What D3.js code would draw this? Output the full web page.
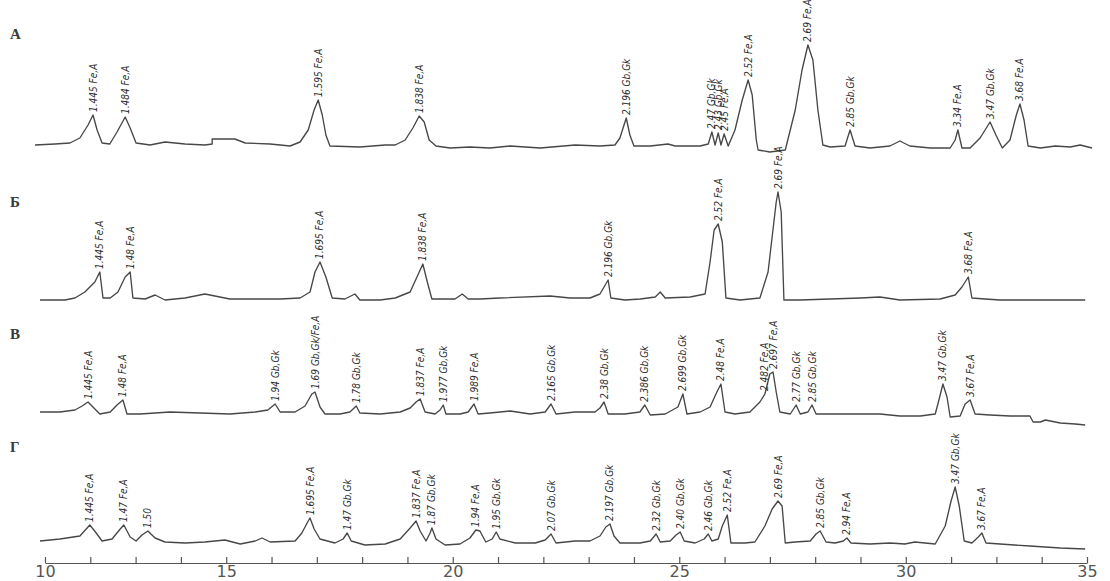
<!DOCTYPE html>
<html>
<head>
<meta charset="utf-8">
<script src="https://d3js.org/d3.v7.min.js"></script>
<style>
body { margin:0; background:#fff; }
svg { display:block; }
.trace { fill:none; stroke:#474747; stroke-width:1.35; stroke-linejoin:round; }
.peak { font-family:"Liberation Sans Narrow","DejaVu Sans Condensed",sans-serif; font-size:10px; font-style:italic; fill:#2e2e2e; }
.letter { font-family:"Liberation Serif","DejaVu Serif",serif; font-size:15px; font-weight:bold; fill:#3a3a3a; }
</style>
</head>
<body>
<div id="chart"></div>
<script>
// pattern traces: [2theta, intensity above baseline]
var traceA = [[10.78,0],[11.22,1],[11.55,2],[11.77,7],[11.95,20],[12.06,30],[12.15,15],[12.26,2],[12.43,1],[12.59,13],[12.77,28],[12.88,17],[13.01,2],[13.32,0],[13.65,3],[14.09,1],[14.53,0],[14.69,1],[14.69,6],[15.19,6],[15.42,2],[15.97,1],[16.41,-1],[16.63,3],[16.81,15],[16.94,35],[17.03,45],[17.12,30],[17.20,10],[17.29,-1],[17.95,-2],[18.51,0],[18.73,0],[18.95,5],[19.12,17],[19.26,29],[19.37,23],[19.48,5],[19.63,-1],[19.94,-3],[20.38,-2],[20.82,-3],[21.27,-1],[21.93,-3],[22.70,0],[23.25,-1],[23.58,0],[23.69,7],[23.83,27],[23.91,10],[24.00,-1],[24.36,-1],[24.75,1],[24.91,-1],[25.46,-1],[25.64,1],[25.72,13],[25.79,0],[25.86,12],[25.92,0],[25.99,11],[26.08,-1],[26.23,15],[26.39,45],[26.52,65],[26.61,50],[26.70,5],[26.74,-5],[27.00,-7],[27.34,-5],[27.56,35],[27.71,75],[27.84,100],[27.95,85],[28.06,35],[28.17,0],[28.33,-2],[28.66,-1],[28.77,15],[28.88,-1],[29.21,-3],[29.65,-1],[29.87,4],[30.09,-1],[30.54,-3],[30.98,-3],[31.09,5],[31.15,15],[31.24,-3],[31.42,-3],[31.64,7],[31.86,23],[31.99,10],[32.13,-3],[32.30,5],[32.44,30],[32.52,41],[32.61,25],[32.70,-1],[32.97,-3],[33.30,-1],[33.63,-2],[33.85,0],[34.11,-3]];

var traceB = [[10.89,0],[11.44,0],[11.66,2],[11.88,8],[12.10,18],[12.21,28],[12.28,2],[12.44,2],[12.61,8],[12.77,23],[12.88,28],[12.94,2],[13.21,1],[13.43,5],[13.65,0],[14.09,2],[14.53,6],[14.75,4],[15.08,1],[16.19,1],[16.63,2],[16.85,8],[16.96,28],[17.07,38],[17.20,23],[17.34,2],[17.62,1],[17.84,6],[17.95,0],[18.40,0],[18.73,2],[19.06,8],[19.21,23],[19.34,36],[19.45,16],[19.54,1],[20.05,1],[20.21,6],[20.34,1],[20.60,1],[21.04,2],[22.15,4],[22.59,2],[23.03,2],[23.25,6],[23.34,13],[23.43,20],[23.49,2],[23.80,0],[24.14,1],[24.47,3],[24.58,8],[24.69,2],[25.24,3],[25.57,6],[25.68,38],[25.77,70],[25.86,76],[25.95,58],[26.03,2],[26.34,0],[26.78,2],[26.96,28],[27.05,63],[27.14,98],[27.18,108],[27.25,88],[27.31,0],[27.67,0],[28.33,1],[28.99,2],[29.43,3],[29.87,0],[30.76,1],[31.09,5],[31.24,13],[31.38,23],[31.46,2],[31.75,1],[32.08,0],[32.74,0],[33.41,0],[33.96,0]];

var traceC = [[10.89,0],[11.33,0],[11.66,2],[11.82,6],[11.95,10],[12.08,4],[12.21,-2],[12.44,0],[12.59,7],[12.72,12],[12.81,-2],[13.10,-2],[13.76,0],[14.42,-1],[15.08,-2],[15.64,0],[15.92,2],[16.08,8],[16.19,0],[16.52,0],[16.74,6],[16.89,18],[16.96,20],[17.07,5],[17.18,-2],[17.51,-2],[17.73,0],[17.87,6],[17.95,-1],[18.40,-2],[18.84,0],[19.06,4],[19.19,10],[19.28,13],[19.39,0],[19.61,-2],[19.72,2],[19.79,7],[19.85,-2],[20.16,-2],[20.34,0],[20.47,8],[20.56,-2],[20.82,-1],[21.27,1],[21.71,-2],[22.04,0],[22.17,8],[22.28,-2],[22.70,0],[23.14,0],[23.25,4],[23.34,10],[23.43,-2],[23.80,-2],[24.13,0],[24.24,7],[24.36,-3],[24.69,-2],[24.97,5],[25.08,18],[25.17,-2],[25.46,0],[25.68,5],[25.83,20],[25.92,28],[26.01,0],[26.23,-2],[26.56,0],[26.78,10],[26.89,18],[27.00,38],[27.07,40],[27.14,20],[27.22,0],[27.45,-2],[27.58,7],[27.67,-2],[27.84,0],[27.93,7],[28.02,-2],[28.33,-2],[28.99,-2],[29.43,-2],[29.87,-4],[30.32,-4],[30.65,-2],[30.72,10],[30.82,28],[30.91,15],[30.98,-5],[31.20,-4],[31.31,8],[31.42,12],[31.53,-2],[31.86,-3],[32.30,-4],[32.74,-4],[32.81,-10],[32.97,-10],[33.08,-8],[33.41,-11],[33.74,-12],[33.96,-13]];

var traceD = [[10.89,0],[11.33,2],[11.77,5],[11.91,12],[11.99,16],[12.13,8],[12.26,0],[12.48,2],[12.66,12],[12.74,16],[12.88,4],[13.01,0],[13.14,6],[13.27,10],[13.43,3],[13.65,-1],[14.09,-2],[14.53,-1],[14.97,1],[15.31,-3],[15.64,0],[15.79,3],[15.97,-1],[16.52,0],[16.67,8],[16.81,20],[16.85,23],[16.94,12],[17.07,2],[17.40,-2],[17.58,2],[17.67,8],[17.76,0],[18.06,-4],[18.51,-3],[18.84,2],[19.06,13],[19.19,20],[19.28,10],[19.41,0],[19.50,8],[19.54,13],[19.63,2],[19.83,-4],[20.16,-3],[20.38,3],[20.51,11],[20.60,10],[20.73,-1],[20.87,2],[20.96,9],[21.04,2],[21.38,-2],[21.82,-2],[22.04,1],[22.17,7],[22.28,-2],[22.70,0],[23.03,0],[23.25,5],[23.38,14],[23.47,17],[23.56,5],[23.69,-2],[24.13,-2],[24.36,0],[24.49,7],[24.58,-1],[24.80,0],[24.93,6],[25.02,9],[25.11,0],[25.35,-2],[25.55,2],[25.64,7],[25.72,0],[25.86,2],[25.95,15],[26.06,26],[26.14,-2],[26.45,-2],[26.67,-1],[26.89,15],[27.05,32],[27.18,40],[27.27,35],[27.34,-2],[27.56,-1],[27.89,0],[28.02,7],[28.11,10],[28.24,-1],[28.44,-2],[28.62,0],[28.70,3],[28.79,-2],[29.21,-3],[29.65,-2],[29.98,-3],[30.20,-1],[30.65,-3],[30.87,15],[31.00,40],[31.09,54],[31.18,35],[31.29,0],[31.46,-2],[31.60,4],[31.68,8],[31.77,-2],[32.08,-3],[32.74,-5],[33.41,-7],[33.96,-8]];

// labelled reflections: [2theta, intensity, label]
var peaksA = [[12.06,30,"1.445 Fe,A"],[12.77,28,"1.484 Fe,A"],[17.03,45,"1.595 Fe,A"],[19.26,29,"1.838 Fe,A"],[23.83,27,"2.196 Gb,Gk"],[25.72,13,"2.47 Gb,Gk"],[25.86,12,"2.43 Gb,Gk"],[25.99,11,"2.45 Fe,A"],[26.52,65,"2.52 Fe,A"],[27.84,100,"2.69 Fe,A"],[28.77,15,"2.85 Gb,Gk"],[31.15,15,"3.34 Fe,A"],[31.86,23,"3.47 Gb,Gk"],[32.52,41,"3.68 Fe,A"]];
var peaksB = [[12.21,28,"1.445 Fe,A"],[12.88,28,"1.48 Fe,A"],[17.07,38,"1.695 Fe,A"],[19.34,36,"1.838 Fe,A"],[23.43,20,"2.196 Gb,Gk"],[25.86,76,"2.52 Fe,A"],[27.18,108,"2.69 Fe,A"],[31.38,23,"3.68 Fe,A"]];
var peaksC = [[11.95,10,"1.445 Fe,A"],[12.72,12,"1.48 Fe,A"],[16.08,8,"1.94 Gb,Gk"],[16.96,20,"1.69 Gb,Gk/Fe,A"],[17.87,6,"1.78 Gb,Gk"],[19.28,13,"1.837 Fe,A"],[19.79,7,"1.977 Gb,Gk"],[20.47,8,"1.989 Fe,A"],[22.17,8,"2.165 Gb,Gk"],[23.34,10,"2.38 Gb,Gk"],[24.24,7,"2.386 Gb,Gk"],[25.08,18,"2.699 Gb,Gk"],[25.92,28,"2.48 Fe,A"],[26.89,18,"2.482 Fe,A"],[27.07,40,"2.697 Fe,A"],[27.58,7,"2.77 Gb,Gk"],[27.93,7,"2.85 Gb,Gk"],[30.82,28,"3.47 Gb,Gk"],[31.42,12,"3.67 Fe,A"]];
var peaksD = [[11.99,16,"1.445 Fe,A"],[12.74,16,"1.47 Fe,A"],[13.27,10,"1.50"],[16.85,23,"1.695 Fe,A"],[17.67,8,"1.47 Gb,Gk"],[19.19,20,"1.837 Fe,A"],[19.54,13,"1.87 Gb,Gk"],[20.51,11,"1.94 Fe,A"],[20.96,9,"1.95 Gb,Gk"],[22.17,7,"2.07 Gb,Gk"],[23.47,17,"2.197 Gb,Gk"],[24.49,7,"2.32 Gb,Gk"],[25.02,9,"2.40 Gb,Gk"],[25.64,7,"2.46 Gb,Gk"],[26.06,26,"2.52 Fe,A"],[27.18,40,"2.69 Fe,A"],[28.11,10,"2.85 Gb,Gk"],[28.70,3,"2.94 Fe,A"],[31.09,54,"3.47 Gb,Gk"],[31.68,8,"3.67 Fe,A"]];

var panelNames = ["А", "Б", "В", "Г"];
var xTicks = d3.range(11, 35);
var xLabelAt = [11, 15, 20, 25, 30, 34];
var xLabels = ["10", "15", "20", "25", "30", "35"];

var width = 1110;
var height = 581;
var svg = d3.select("#chart").append("svg")
	.attr("width", width)
	.attr("height", height);

var x = d3.scaleLinear().domain([11, 34]).range([45, 1087]);

//layout of the four stacked patterns (baseline y and letter y)
var layout = [
	{base:145, letterY:39},
	{base:300, letterY:207},
	{base:412, letterY:339},
	{base:541, letterY:452}
];
var traces = [traceA, traceB, traceC, traceD];
var peaks = [peaksA, peaksB, peaksC, peaksD];

traces.forEach(function(tr, i){
	var y = d3.scaleLinear().domain([0, 100]).range([layout[i].base, layout[i].base - 100]);
	var line = d3.line()
		.x(function(d){ return x(d[0]); })
		.y(function(d){ return y(d[1]); });

	svg.append("path")
		.datum(tr)
		.attr("class", "trace")
		.attr("d", line);

	svg.append("g")
		.selectAll("text")
		.data(peaks[i])
		.enter().append("text")
		.attr("class", "peak")
		.attr("transform", function(d){
			return "translate(" + (x(d[0]) + 3.5) + "," + (y(d[1]) - 3) + ") rotate(-90)";
		})
		.text(function(d){ return d[2]; });

	svg.append("text")
		.attr("class", "letter")
		.attr("x", 10)
		.attr("y", layout[i].letterY)
		.text(panelNames[i]);
});

//axis: ticks point up, labels hang below
var axisG = svg.append("g")
	.attr("transform", "translate(0,563)")
	.call(d3.axisTop(x).tickValues(xTicks).tickSize(6).tickSizeOuter(0).tickFormat(""));
axisG.selectAll("path, line").attr("stroke", "#555").attr("stroke-width", 1.2);

var labelG = svg.append("g")
	.attr("transform", "translate(0,563)")
	.call(d3.axisBottom(x).tickValues(xLabelAt).tickSize(0).tickPadding(3)
		.tickFormat(function(d, i){ return xLabels[i]; }));
labelG.select(".domain").remove();
labelG.selectAll("text")
	.style("font-family", "DejaVu Sans, sans-serif")
	.style("font-size", "16px")
	.attr("fill", "#555");
</script>
</body>
</html>
